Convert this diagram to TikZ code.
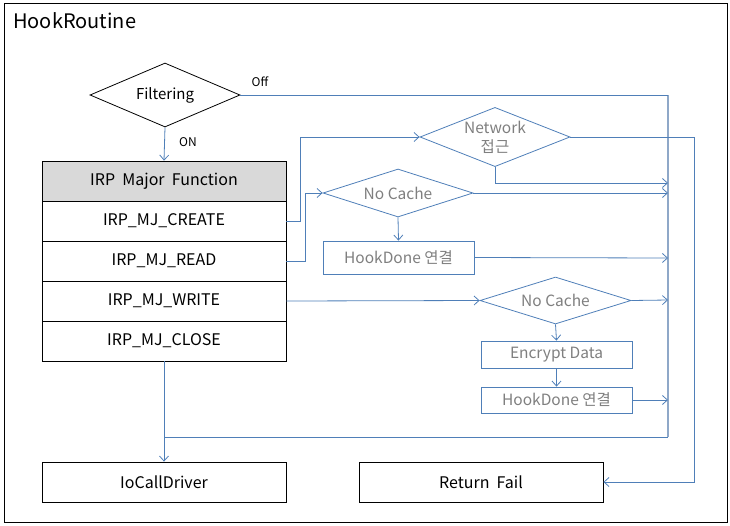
\documentclass[tikz,border=0pt]{standalone}
\usepackage{fontspec}
\setmainfont{Noto Sans CJK KR}
\usetikzlibrary{shapes.geometric,arrows.meta}
\definecolor{ln}{HTML}{4F7FB8}
\definecolor{bus}{HTML}{8FA8C8}
\definecolor{gtx}{HTML}{7F7F7F}
\definecolor{hdr}{HTML}{D9D9D9}
\begin{document}
\begin{tikzpicture}[x=1pt,y=-1pt,
  tip/.style={-{Straight Barb[length=5pt,width=9pt,line width=0.8pt]}},
  conn/.style={draw=ln,line width=0.8pt},
  tbl/.style={draw=black,line width=0.8pt,minimum width=244pt,minimum height=40pt,inner sep=0pt,font=\fontsize{16}{18}\selectfont},
  bbox/.style={draw=ln,line width=0.8pt,inner sep=0pt,text=gtx,font=\fontsize{15.5}{17}\selectfont},
  dia/.style={diamond,draw=black,line width=0.8pt,inner sep=0pt,aspect=2.3,font=\fontsize{15}{17}\selectfont},
  gdia/.style={diamond,draw=ln,line width=0.8pt,inner sep=0pt,aspect=2.3,text=gtx,font=\fontsize{15.5}{17}\selectfont,align=center},
  lbl/.style={inner sep=0pt,font=\fontsize{12}{14}\selectfont}
]
\useasboundingbox (0,0) rectangle (730,525);
\node[draw=black,line width=0.8pt,minimum width=723pt,minimum height=519pt,inner sep=0pt,anchor=north west] (frame) at (4,3) {};
\node[anchor=west,inner sep=0pt,font=\fontsize{20}{22}\selectfont] (title) at (13,21) {HookRoutine};

\node[dia,minimum width=150pt,minimum height=64pt] (filt) at (165,95) {Filtering};
\node[lbl] (off) at (260,82) {Off};
\node[lbl] (on) at (188,142) {ON};

\node[tbl,fill=hdr] (hdr) at (164,181) {IRP\ \ Major\ \ Function};
\node[tbl] (create) at (164,221) {IRP\_MJ\_CREATE};
\node[tbl] (read) at (164,261) {IRP\_MJ\_READ};
\node[tbl] (write) at (164,301) {IRP\_MJ\_WRITE};
\node[tbl] (close) at (164,341) {IRP\_MJ\_CLOSE};

\node[tbl] (io) at (164,482) {IoCallDriver};
\node[tbl] (rf) at (481,482) {Return\ \ Fail};

\node[gdia,minimum width=150pt,minimum height=52pt] (net) at (495,137) {Network\\[2pt]접근};
\node[gdia,minimum width=150pt,minimum height=48pt] (nc1) at (398,193) {No Cache};
\node[bbox,minimum width=151pt,minimum height=33pt] (hd1) at (398.5,257.5) {HookDone 연결};
\node[gdia,minimum width=151pt,minimum height=47pt] (nc2) at (555.5,300.5) {No Cache};
\node[bbox,minimum width=151pt,minimum height=27pt] (enc) at (556.5,354.5) {Encrypt Data};
\node[bbox,minimum width=151pt,minimum height=26pt] (hd2) at (556.5,400) {HookDone 연결};

\coordinate (bt) at (668,95);
\coordinate (bb) at (668,437);
\coordinate (jn) at (165,437);
\coordinate (rx) at (694,137);
\coordinate (b1) at (668,183);
\coordinate (b2) at (668,193);
\coordinate (b3) at (668,258);
\coordinate (b4) at (668,300);
\coordinate (b5) at (668,400);

\draw[conn,draw=bus,line width=1.3pt] (bt) -- (bb);
\draw[conn] (filt.east) -- (bt);
\draw[conn] (bb) -- (jn);
\draw[conn,tip] (filt.south) -- (hdr.north);
\draw[conn,tip] (close.south) -- (io.north);
\draw[conn,tip] (create.east) -- ++(14,0) |- (net.west);
\draw[conn,tip] (net.east) -- (rx) |- (rf.east);
\draw[conn,tip] (net.south) |- (b1);
\draw[conn,tip] (read.east) -- ++(19,0) |- (nc1.west);
\draw[conn,tip] (nc1.east) -- (b2);
\draw[conn,tip] (nc1.south) -- (hd1.north);
\draw[conn,tip] (hd1.east) -- (b3);
\draw[conn,tip] (write.east) -- (nc2.west);
\draw[conn,tip] (nc2.east) -- (b4);
\draw[conn,tip] (nc2.south) -- (enc.north);
\draw[conn,tip] (enc.south) -- (hd2.north);
\draw[conn,tip] (hd2.east) -- (b5);
\end{tikzpicture}
\end{document}
